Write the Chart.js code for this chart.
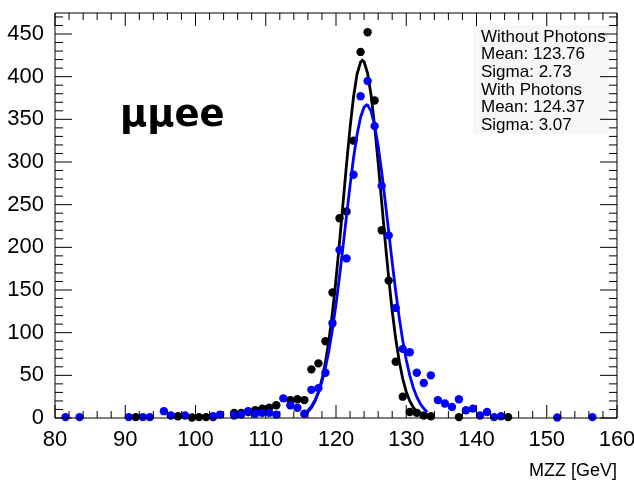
<!DOCTYPE html>
<html>
<head>
<meta charset="utf-8">
<script src="https://cdn.jsdelivr.net/npm/chart.js@4.4.1/dist/chart.umd.min.js"></script>
<style>
  html, body { margin: 0; padding: 0; background: #fff; }
</style>
</head>
<body>
<canvas id="mzzChart" width="634" height="486"></canvas>
<script>
// bin centres (GeV) and entries
const noPhotonMass = [91.5, 97.5, 99.5, 100.5, 101.5, 102.5, 105.5, 106.5, 107.5, 108.5, 109.5, 110.5, 111.5,
  113.5, 114.5, 115.5, 116.5, 117.5, 118.5, 119.5, 120.5, 121.5, 122.5, 123.5, 124.5, 125.5, 126.5, 127.5,
  128.5, 129.5, 130.5, 131.5, 132.5, 133.5, 137.5, 144.5];
const noPhotonCounts = [1, 2, 0.5, 1, 1, 1, 6, 6, 7, 9, 11, 12, 15,
  21, 22, 21, 57, 64, 90, 147, 234, 242, 325, 429, 452, 372, 220, 161,
  66, 25, 7, 6, 3, 2, 1, 1];

const photonMass = [81.5, 83.5, 90.5, 92.5, 93.5, 95.5, 96.5, 98.5, 102.5, 103.5, 105.5, 106.5, 107.5, 108.5,
  109.5, 110.5, 111.5, 112.5, 113.5, 114.5, 115.5, 116.5, 117.5, 118.5, 119.5, 120.5, 121.5, 122.5, 123.5,
  124.5, 125.5, 126.5, 127.5, 128.5, 129.5, 130.5, 131.5, 132.5, 133.5, 134.5, 135.5, 136.5, 137.5, 138.5,
  139.5, 140.5, 141.5, 142.5, 143.5, 151.5, 156.5];
const photonCounts = [1, 1, 1, 1, 1, 8, 3, 3, 2, 4, 3, 4, 8, 5,
  6, 6, 4, 23, 15, 12, 5, 33, 35, 53, 111, 197, 187, 285, 377,
  395, 342, 272, 214, 129, 81, 77, 53, 41, 50, 21, 17, 13, 22, 9,
  11, 3, 7, 1, 2, 0.5, 1];

// gaussian fit curves, sampled every 0.5 GeV
const fitMassNoPhoton = [115, 115.5, 116, 116.5, 117, 117.5, 118, 118.5, 119, 119.5, 120, 120.5, 121, 121.5,
  122, 122.5, 123, 123.5, 123.76, 124, 124.5, 125, 125.5, 126, 126.5, 127, 127.5, 128, 128.5, 129, 129.5,
  130, 130.5, 131, 131.5, 132];
const fitNoPhoton = [2.4, 4.3, 7.4, 12.2, 19.5, 30.2, 45.2, 65.5, 91.6, 124.1, 162.3, 205.4, 251.4, 297.5,
  340.4, 376.7, 403.1, 417.1, 419, 417.4, 403.9, 377.9, 342.0, 299.3, 253.2, 207.2, 164.0, 125.4, 92.8, 66.4, 46.0,
  30.8, 19.9, 12.4, 7.5, 4.4];

const fitMassPhoton = [115, 115.5, 116, 116.5, 117, 117.5, 118, 118.5, 119, 119.5, 120, 120.5, 121, 121.5,
  122, 122.5, 123, 123.5, 124, 124.37, 124.5, 125, 125.5, 126, 126.5, 127, 127.5, 128, 128.5, 129, 129.5,
  130, 130.5, 131, 131.5, 132, 132.5, 133];
const fitPhoton = [3.5, 5.6, 8.9, 13.7, 20.6, 30.0, 42.6, 59.0, 79.5, 104.3, 133.3, 165.8, 200.9, 237.1,
  272.4, 304.9, 332.2, 352.5, 364.3, 367, 366.7, 359.4, 343.0, 318.8, 288.5, 254.3, 218.3, 182.4, 148.5, 117.7, 90.9,
  68.3, 50.0, 35.6, 24.7, 16.7, 11.0, 7.1];

const xTicks = [80, 90, 100, 110, 120, 130, 140, 150, 160];
const yTicks = [0, 50, 100, 150, 200, 250, 300, 350, 400, 450];
const statsLines = ['Without Photons', 'Mean: 123.76', 'Sigma: 2.73', 'With Photons', 'Mean: 124.37', 'Sigma: 3.07'];
const channelLabel = 'μμee';

const toXY = (xs, ys) => xs.map((x, i) => ({ x: x, y: ys[i] }));

// ROOT-style frame: ticks inside on all four sides, stats box, channel label
const rootFrame = {
  id: 'rootFrame',
  beforeDatasetsDraw(chart) {
    const ctx = chart.ctx;
    ctx.save();
    ctx.fillStyle = '#f7f7f7';
    ctx.fillRect(473, 25, 135, 109);
    ctx.restore();
  },
  afterDatasetsDraw(chart) {
    const { ctx, chartArea: a, scales: { x, y } } = chart;
    ctx.save();
    ctx.strokeStyle = '#000';
    ctx.lineWidth = 1;
    ctx.beginPath();
    ctx.rect(a.left, a.top, a.right - a.left, a.bottom - a.top);
    for (let v = 80; v <= 160; v += 2) {
      const px = x.getPixelForValue(v);
      const len = v % 10 === 0 ? 13 : 7;
      ctx.moveTo(px, a.bottom); ctx.lineTo(px, a.bottom - len);
      ctx.moveTo(px, a.top); ctx.lineTo(px, a.top + len);
    }
    for (let v = 0; v <= 470; v += 10) {
      const py = y.getPixelForValue(v);
      const len = v % 50 === 0 ? 17 : 8;
      ctx.moveTo(a.left, py); ctx.lineTo(a.left + len, py);
      ctx.moveTo(a.right, py); ctx.lineTo(a.right - len, py);
    }
    ctx.stroke();
    ctx.restore();
  },
  afterDraw(chart) {
    const ctx = chart.ctx;
    ctx.save();
    ctx.fillStyle = '#000';
    ctx.textBaseline = 'middle';
    ctx.font = '17px "Liberation Sans", Arial, sans-serif';
    statsLines.forEach((t, i) => ctx.fillText(t, 481, 37 + i * 17.7));
    ctx.font = 'bold 37px "DejaVu Sans", sans-serif';
    ctx.textBaseline = 'alphabetic';
    ctx.fillText(channelLabel, 120, 126);
    ctx.restore();
  }
};

new Chart(document.getElementById('mzzChart'), {
  type: 'scatter',
  data: {
    datasets: [{
      label: 'Without Photons',
      data: toXY(noPhotonMass, noPhotonCounts),
      backgroundColor: '#000',
      borderWidth: 0,
      pointRadius: 4.2,
      clip: false,
      order: 4
    }, {
      label: 'Fit without photons',
      data: toXY(fitMassNoPhoton, fitNoPhoton),
      showLine: true,
      borderColor: '#000',
      borderWidth: 2.8,
      pointRadius: 0,
      order: 3
    }, {
      label: 'With Photons',
      data: toXY(photonMass, photonCounts),
      backgroundColor: '#0000ff',
      borderWidth: 0,
      pointRadius: 4.2,
      clip: false,
      order: 2
    }, {
      label: 'Fit with photons',
      data: toXY(fitMassPhoton, fitPhoton),
      showLine: true,
      borderColor: '#0000ff',
      borderWidth: 2.8,
      pointRadius: 0,
      order: 1
    }]
  },
  options: {
    responsive: false,
    animation: false,
    layout: { padding: { top: 13, left: 0, right: 17, bottom: 0 } },
    plugins: { legend: { display: false }, tooltip: { enabled: false } },
    scales: {
      x: {
        type: 'linear',
        min: 80,
        max: 160,
        grid: { display: false },
        border: { display: false },
        afterBuildTicks: s => { s.ticks = xTicks.map(v => ({ value: v })); },
        afterFit: s => { s.height = 68; s.paddingLeft = 0; s.paddingRight = 0; },
        ticks: {
          autoSkip: false,
          maxRotation: 0,
          padding: 1,
          color: '#000',
          font: { family: '"Liberation Sans", Arial, sans-serif', size: 22 }
        },
        title: {
          display: true,
          text: 'MZZ [GeV]',
          align: 'end',
          color: '#000',
          padding: { top: 0, bottom: 4 },
          font: { family: '"Liberation Sans", Arial, sans-serif', size: 18 }
        }
      },
      y: {
        type: 'linear',
        min: 0,
        max: 474.6,
        grid: { display: false },
        border: { display: false },
        afterBuildTicks: s => { s.ticks = yTicks.map(v => ({ value: v })); },
        afterFit: s => { s.width = 55; s.paddingTop = 0; s.paddingBottom = 0; },
        ticks: {
          autoSkip: false,
          padding: 3,
          color: '#000',
          font: { family: '"Liberation Sans", Arial, sans-serif', size: 22 }
        }
      }
    }
  },
  plugins: [rootFrame]
});
</script>
</body>
</html>
